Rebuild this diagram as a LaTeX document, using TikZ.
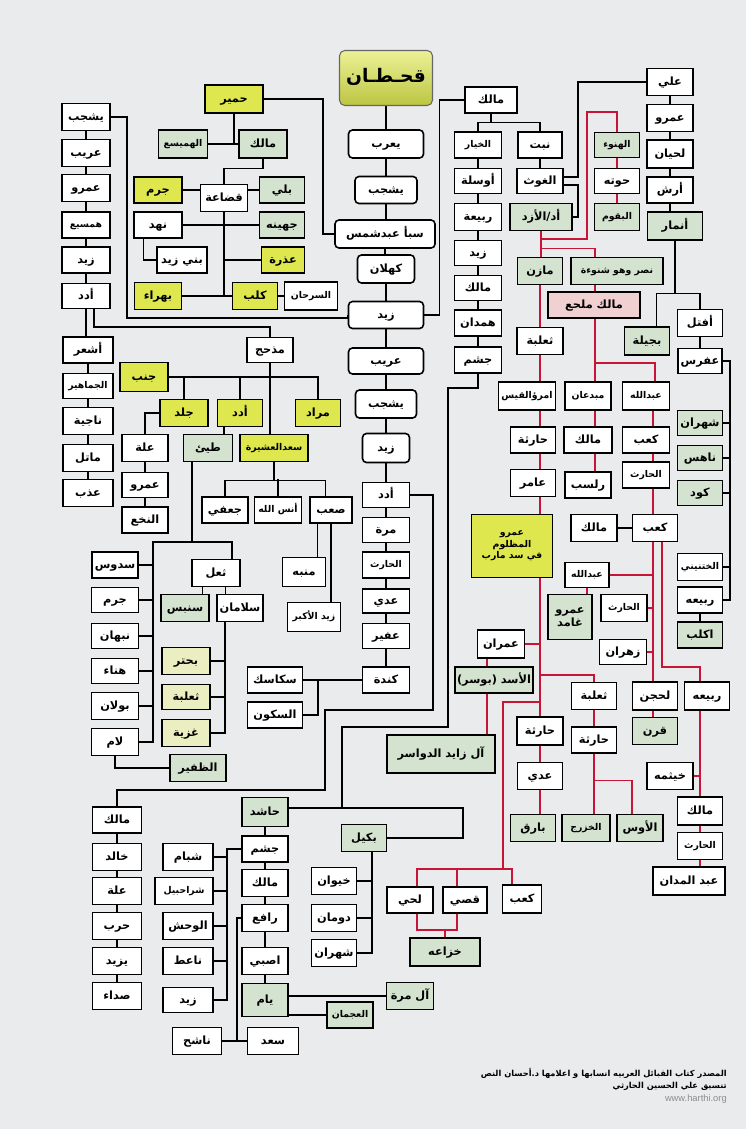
\documentclass[tikz,border=0pt]{standalone}
\usepackage{fontspec}
\setmainfont{Liberation Sans}
\newfontfamily\ar[Script=Arabic]{DejaVu Sans}
\TeXXeTstate=1
\definecolor{bgc}{RGB}{234,235,237}
\definecolor{yel}{RGB}{222,232,78}
\definecolor{grn}{RGB}{212,226,208}
\definecolor{lyel}{RGB}{234,238,192}
\definecolor{pnk}{RGB}{240,208,208}
\definecolor{redl}{RGB}{200,20,55}
\pgfdeclarelayer{bgz}\pgfdeclarelayer{lines}\pgfsetlayers{bgz,lines,main}
\tikzset{
  box/.style={draw,line width=1.2pt,fill=white,inner sep=1pt,text height=6pt,text depth=1.2pt,font=\ar\bfseries\fontsize{8.5}{10}\selectfont},
  rb/.style={rounded corners=3pt},
  yb/.style={fill=yel},
  gb/.style={fill=grn},
  lb/.style={fill=lyel},
  pb/.style={fill=pnk},
  sm/.style={text height=5pt,text depth=1pt,font=\ar\bfseries\fontsize{7}{8.5}\selectfont},
  ln/.style={line width=0.9pt,draw=black},
  rl/.style={line width=0.9pt,draw=redl},
}
\newcommand\bx[7][]{\node[box,#1,minimum width=#5*0.75pt,minimum height=#6*0.75pt] (#2) at (#3,#4) {\beginR #7\endR};}
\newcommand\bxr[7][]{\node[box,#1,minimum width=#5*0.75pt,minimum height=#6*0.75pt] (#2) at (#3,#4) {#7};}
\begin{document}
\begin{tikzpicture}[x=0.75pt,y=-0.75pt]
\begin{pgfonlayer}{bgz}
\fill[bgc] (0,0) rectangle (746,1129);
\end{pgfonlayer}
\useasboundingbox (0,0) rectangle (746,1129);
% ---------- central column
\node[draw=black!60,line width=0.8pt,rounded corners=4pt,top color=yel!60!white,bottom color=yel!85!black,minimum width=93*0.75pt,minimum height=55*0.75pt,text height=9pt,text depth=2pt,font=\ar\bfseries\fontsize{14}{16}\selectfont] (q) at (386,78) {\beginR قحـطـان\endR};
\bx[rb]{c1}{386}{144}{75}{28}{يعرب}
\bx[rb]{c2}{386}{190}{62}{27}{يشجب}
\bxr[rb]{c3}{385}{234}{100}{28}{\beginR سبأ عبدشمس\endR}
\bx[rb]{c4}{386}{269}{57}{28}{كهلان}
\bx[rb]{c5}{386}{315}{75}{27}{زيد}
\bx[rb]{c6}{386}{361}{75}{26}{عريب}
\bx[rb]{c7}{386}{404}{61}{28}{يشجب}
\bx[rb]{c8}{386}{448}{47}{29}{زيد}
\bx{c9}{386}{495}{47}{25}{أدد}
\bx{c10}{386}{530}{47}{25}{مرة}
\bx[sm]{c11}{386}{565}{47}{26}{الحارث}
\bx{c12}{386}{601}{47}{24}{عدي}
\bx{c13}{386}{636}{47}{25}{عفير}
\bx{c14}{386}{680}{47}{26}{كندة}
% ---------- right of centre
\bx{m1}{491}{100}{52}{26}{مالك}
\bx[sm]{r1}{478}{145}{47}{26}{الخيار}
\bx{r2}{478}{181}{47}{25}{أوسلة}
\bx{r3}{478}{217}{47}{27}{ربيعة}
\bx{r4}{478}{253}{47}{25}{زيد}
\bx{r5}{478}{288}{47}{25}{مالك}
\bx{r6}{478}{323}{47}{26}{همدان}
\bx{r7}{478}{360}{47}{26}{جشم}
\bx{n1}{540}{145}{44}{26}{نبت}
\bx{n2}{540}{181}{46}{25}{الغوث}
\bx[gb]{n3}{541}{217}{62}{27}{أد/الأزد}
\bx[gb,sm]{t1}{617}{145}{45}{25}{الهنوء}
\bx{t2}{617}{181}{45}{25}{حوته}
\bx[gb,sm]{t3}{617}{217}{45}{27}{البقوم}
\bx{a1}{670}{82}{46}{27}{علي}
\bx{a2}{670}{118}{46}{27}{عمرو}
\bx{a3}{670}{154}{46}{28}{لحيان}
\bx{a4}{670}{190}{46}{26}{أرش}
\bx[gb]{a5}{675}{226}{55}{28}{أنمار}
\bx{a6}{700}{323}{45}{27}{أفتل}
\bx{a7}{700}{361}{44}{25}{عفرس}
\bx[gb]{bj}{647}{341}{45}{28}{بجيلة}
\bx[gb]{k1}{700}{423}{45}{25}{شهران}
\bx[gb]{k2}{700}{458}{45}{25}{ناهس}
\bx[gb]{k3}{700}{493}{45}{25}{كود}
\bx[sm]{k4}{700}{567}{45}{27}{الختنيني}
\bx{k5}{700}{600}{45}{26}{ربيعه}
\bx[gb]{k6}{700}{635}{45}{26}{اكلب}
\bx[gb]{mz}{540}{271}{45}{27}{مازن}
\bxr[gb,sm]{ns}{617}{271}{92}{27}{\beginR نصر وهو شنوءة\endR}
\bxr[pb]{mm}{594}{305}{92}{26}{\beginR مالك ملحع\endR}
\bx{th}{540}{341}{46}{27}{ثعلبة}
\bx[sm]{im}{527}{396}{57}{28}{امرؤالقيس}
\bx{hr}{533}{440}{45}{26}{حارثة}
\bx{am}{533}{483}{45}{27}{عامر}
\node[box,yb,sm,align=center,text height=,text depth=,minimum width=81*0.75pt,minimum height=63*0.75pt] (amr) at (512,546) {\beginR عمرو\endR\\\beginR المظلوم\endR\\\beginR في سد مارب\endR};
\bx[sm]{mb}{588}{396}{46}{28}{مبدعان}
\bx{ml}{588}{440}{48}{26}{مالك}
\bx{rs}{588}{485}{46}{26}{رلسب}
\bx[sm]{ab}{646}{396}{47}{28}{عبدالله}
\bx{kb}{646}{440}{47}{26}{كعب}
\bx[sm]{hth}{646}{475}{47}{26}{الحارث}
\bx{kb2}{655}{528}{45}{27}{كعب}
\bx{ml2}{594}{528}{46}{27}{مالك}
\bx[sm]{ab2}{587}{575}{44}{25}{عبدالله}
\node[box,gb,align=center,text height=,text depth=,minimum width=44*0.75pt,minimum height=45*0.75pt] (ag) at (570,617) {\beginR عمرو\endR\\\beginR غامد\endR};
\bx[sm]{hth2}{624}{608}{46}{27}{الحارث}
\bx{zh}{623}{652}{47}{25}{زهران}
\bx{lh}{655}{696}{45}{28}{لحجن}
\bx[gb]{qr}{655}{731}{45}{27}{قرن}
\bx{rb2}{707}{696}{45}{28}{ربيعه}
\bx{kh}{670}{776}{46}{27}{خيثمه}
\bx{ml3}{700}{811}{45}{28}{مالك}
\bx[sm]{hth3}{700}{846}{45}{27}{الحارث}
\bxr{am2}{689}{881}{72}{28}{\beginR عبد المدان\endR}
\bx{imr}{501}{644}{47}{28}{عمران}
\bxr[gb]{as}{494}{680}{78}{26}{\beginR الأسد (بوسر)\endR}
\bxr[gb]{zd}{441}{754}{108}{38}{\beginR آل زايد الدواسر\endR}
\bx{th2}{594}{696}{45}{27}{ثعلبة}
\bx{hr2}{594}{740}{45}{26}{حارثة}
\bx{hr3}{540}{731}{46}{28}{حارثة}
\bx{ad}{540}{776}{45}{27}{عدي}
\bx[gb]{bq}{533}{828}{45}{27}{بارق}
\bx[gb,sm]{kz}{586}{828}{48}{27}{الخزرج}
\bx[gb]{aws}{640}{828}{46}{27}{الأوس}
\bx{lhy}{410}{900}{46}{26}{لحي}
\bx{qs}{465}{900}{44}{26}{قصي}
\bx{kb3}{522}{899}{39}{28}{كعب}
\bx[gb]{kz2}{445}{952}{70}{28}{خزاعه}
% ---------- left top
\bx[yb]{hm}{234}{99}{58}{28}{حمير}
\bx[gb]{mk}{263}{144}{48}{28}{مالك}
\bx[gb,sm]{hms}{183}{144}{49}{28}{الهميسع}
\bx{qd}{224}{198}{47}{27}{قضاعة}
\bx[yb]{jr}{158}{190}{48}{26}{جرم}
\bx[gb]{bl}{282}{190}{45}{26}{بلي}
\bx[gb]{jh}{282}{225}{45}{26}{جهينه}
\bx{nh}{158}{225}{48}{26}{نهد}
\bxr{bz}{182}{260}{50}{26}{\beginR بني زيد\endR}
\bx[yb]{uz}{283}{260}{43}{26}{عذرة}
\bx[yb]{kl}{255}{296}{45}{27}{كلب}
\bx[yb]{bh}{158}{296}{47}{27}{بهراء}
\bx[sm]{sr}{311}{296}{53}{28}{السرحان}
\bx{l1}{86}{117}{48}{27}{يشجب}
\bx{l2}{86}{153}{48}{27}{عريب}
\bx{l3}{86}{188}{48}{27}{عمرو}
\bx[sm]{l4}{86}{225}{48}{26}{همسيع}
\bx{l5}{86}{260}{48}{26}{زيد}
\bx{l6}{86}{296}{48}{25}{أدد}
\bx{s1}{88}{350}{50}{26}{أشعر}
\bx[sm]{s2}{88}{386}{50}{25}{الجماهير}
\bx{s3}{88}{421}{50}{27}{ناجية}
\bx{s4}{88}{458}{50}{27}{ماتل}
\bx{s5}{88}{493}{50}{27}{عذب}
\bx{mdh}{270}{350}{46}{25}{مذحج}
\bx[yb]{jn}{144}{377}{48}{29}{جنب}
\bx[yb]{jl}{184}{413}{48}{27}{جلد}
\bx[yb]{ad2}{240}{413}{45}{27}{أدد}
\bx[yb]{mr}{318}{413}{45}{27}{مراد}
\bx[yb,sm]{sa}{274}{448}{68}{27}{سعدالعشيرة}
\bx[gb]{ty}{208}{448}{49}{27}{طيئ}
\bx{al}{145}{448}{46}{27}{علة}
\bx{am3}{145}{485}{46}{25}{عمرو}
\bx{nk}{145}{520}{46}{26}{النخع}
\bx{jf}{225}{510}{46}{26}{جعفي}
\bxr[sm]{an}{278}{510}{47}{26}{\beginR أنس الله\endR}
\bx{sb}{331}{510}{42}{26}{صعب}
\bx{mn}{304}{572}{43}{29}{منبه}
\bxr[sm]{zk}{314}{617}{53}{29}{\beginR زيد الأكبر\endR}
\bx{tl}{216}{573}{48}{27}{ثعل}
\bx{sd}{115}{565}{46}{26}{سدوس}
\bx{g1}{115}{600}{47}{25}{جرم}
\bx{g2}{115}{636}{47}{25}{نبهان}
\bx{g3}{115}{671}{47}{25}{هناء}
\bx{g4}{115}{706}{47}{27}{بولان}
\bx{g5}{115}{742}{47}{27}{لام}
\bx[gb]{zf}{198}{768}{56}{27}{الظفير}
\bx[gb]{sn}{185}{608}{48}{27}{سنبس}
\bx{sl}{240}{608}{46}{27}{سلامان}
\bx[lb]{bt}{186}{661}{48}{27}{بحتر}
\bx[lb]{tb}{186}{697}{48}{25}{ثعلبة}
\bx[lb]{gz}{186}{733}{48}{27}{غزية}
\bx{sk}{275}{680}{55}{26}{سكاسك}
\bx{skn}{275}{715}{55}{26}{السكون}
% ---------- bottom left
\bx{b1}{117}{820}{49}{26}{مالك}
\bx{b2}{117}{857}{49}{27}{خالد}
\bx{b3}{117}{891}{49}{27}{علة}
\bx{b4}{117}{926}{49}{27}{حرب}
\bx{b5}{117}{961}{49}{27}{يزيد}
\bx{b6}{117}{996}{49}{27}{صداء}
\bx[gb]{hs}{265}{812}{46}{29}{حاشد}
\bx{js}{265}{849}{46}{26}{جشم}
\bx{mk2}{265}{883}{46}{27}{مالك}
\bx{rf}{265}{918}{46}{27}{رافع}
\bx{asb}{265}{961}{46}{27}{اصبي}
\bx[gb]{ym}{265}{1000}{46}{33}{يام}
\bx{sad}{273}{1041}{51}{27}{سعد}
\bx{nsh}{197}{1041}{49}{27}{ناشح}
\bx{sbm}{188}{857}{50}{27}{شبام}
\bx[sm]{shr}{184}{891}{58}{27}{شراحبيل}
\bx{qh}{188}{926}{50}{27}{الوحش}
\bx{naat}{188}{961}{50}{27}{ناعط}
\bx{zy}{188}{1000}{50}{25}{زيد}
\bx[gb]{bk}{364}{838}{45}{27}{بكيل}
\bx{kw}{334}{881}{45}{27}{خيوان}
\bx{dm}{334}{918}{45}{27}{دومان}
\bx{shh}{334}{953}{45}{27}{شهران}
\bxr[gb]{mr2}{410}{996}{47}{27}{\beginR آل مرة\endR}
\bx[gb,sm]{ajm}{350}{1015}{46}{26}{العجمان}
% ---------- footer
\node[anchor=east,inner sep=0pt,font=\ar\bfseries\fontsize{6.2}{7}\selectfont] (ft1) at (727,1073) {\beginR المصدر كتاب القبائل العربيه انسابها و اعلامها د.أحسان النص\endR};
\node[anchor=east,inner sep=0pt,font=\ar\bfseries\fontsize{6.2}{7}\selectfont] (ft2) at (727,1086) {\beginR تنسيق علي الحسين الحارثي\endR};
\node[anchor=east,inner sep=0pt,font=\fontsize{7}{8}\selectfont,text=black!45] (ft3) at (727,1099) {www.harthi.org};
% ---------- helper coordinates
\coordinate (X417) at (417,0);
\coordinate (X457) at (457,0);
\coordinate (X487) at (487,0);
\coordinate (X512) at (512,0);
\coordinate (X540) at (540,0);
\coordinate (X595) at (595,0);
\coordinate (X653) at (653,0);
\coordinate (X655) at (655,0);
\coordinate (X662) at (662,0);
\coordinate (X700) at (700,0);
\coordinate (J1) at (342,808);
\coordinate (F1) at (192,542);
\coordinate (F2) at (153,542);
\coordinate (F3) at (225,700);
\coordinate (F4) at (318,680);
\coordinate (F5) at (227,1000);
\coordinate (F6) at (237,1041);
\coordinate (F7) at (372,900);
\coordinate (F9) at (730,600);
\begin{pgfonlayer}{lines}
% central
\foreach \a/\b in {q/c1,c1/c2,c2/c3,c3/c4,c4/c5,c5/c6,c6/c7,c7/c8,c8/c9,c9/c10,c10/c11,c11/c12,c12/c13,c13/c14}
  \draw[ln] (\a.south) -- (\a.south |- \b.north);
\draw[ln] (c5.east) -- ++(15,0) |- (m1.west);
\draw[ln] (m1.south) -- ++(0,9) -| (r1.north);
\draw[ln] (m1.south) ++(0,9) -| (n1.north);
\foreach \a/\b in {r1/r2,r2/r3,r3/r4,r4/r5,r5/r6,r6/r7,n1/n2,a1/a2,a2/a3,a3/a4,a4/a5,a6/a7,k5/k6,
  l1/l2,l2/l3,l3/l4,l4/l5,l5/l6,s1/s2,s2/s3,s3/s4,s4/s5,al/am3,am3/nk,
  b1/b2,b2/b3,b3/b4,b4/b5,b5/b6,hs/js,js/mk2,mk2/rf,rf/asb,asb/ym}
  \draw[ln] (\a.south) -- (\a.south |- \b.north);
\draw[ln] (r7.south) |- (448,388) |- (342,727) -- (J1);
\draw[ln] (hs.east |- J1) -- (463,808) |- (bk.east);
\draw[ln] (c9.east) -| (433,710) -| (325,790) -| (b1.north);
\draw[ln] (c3.west) -| (323,99) -- (hm.east);
\draw[ln] (hms.east) -- (mk.west);
\draw[ln] (hm.south) -- (hm.south |- mk.west);
\draw[ln] (mk.south) -- ++(0,10) -| (qd.north);
\draw[ln] (jr.east) -- (jr.east -| qd.west);
\draw[ln] (bl.west) -- (bl.west -| qd.east);
\draw[ln] (nh.east) -- (jh.west);
\draw[ln] (qd.south) -- (qd.south |- bh.east);
\draw[ln] (bh.east) -- (kl.west);
\draw[ln] ([xshift=-11pt]nh.south) |- (bz.west);
\draw[ln] (uz.west) -- (uz.west -| qd.south);
\draw[ln] (kl.east) -- (sr.west);
\draw[ln] (l1.east) -| (127,318) -| (c5.west);
\draw[ln] (l6.south) -- (l6.south |- s1.north);
\draw[ln] ([xshift=6pt]l6.south) |- (270,327) -- (mdh.north);
\draw[ln] (mdh.south) -- (mdh.south |- sa.north);
\draw[ln] (jn.east) -| (mr.north);
\draw[ln] (jl.north) -- (jl.north |- jn.east);
\draw[ln] (ad2.north) -- (ad2.north |- jn.east);
\draw[ln] (jl.west) -| (al.north);
\draw[ln] ([xshift=-12pt]ad2.south) -- ([xshift=-12pt]ad2.south |- ty.north);
\draw[ln] (sa.south) -- ++(0,18) -| (jf.north);
\draw[ln] (sa.south) ++(0,18) -| ([xshift=-4pt]sb.north);
\draw[ln] (an.north) -- ++(0,-17);
\draw[ln] ([xshift=-10pt]sb.south) -- ([xshift=-10pt]sb.south |- mn.north);
\draw[ln] (sb.south) -- (sb.south |- zk.north);
\draw[ln] (ty.south -| F1) -- (F1) -| ([xshift=12pt]tl.north);
\draw[ln] (F1) -- (F2) |- (g5.east);
\foreach \n in {sd,g1,g2,g3,g4} \draw[ln] (\n.east) -- (\n.east -| F2);
\draw[ln] ([xshift=-10pt]tl.south) -- ([xshift=-10pt]tl.south |- sn.north);
\draw[ln] ([xshift=7pt]tl.south) -- ([xshift=7pt]tl.south |- sl.north);
\draw[ln] (sl.south -| F3) |- (gz.east);
\draw[ln] (bt.east) -- (bt.east -| F3);
\draw[ln] (tb.east) -- (tb.east -| F3);
\draw[ln] (g5.south) |- (zf.west);
\draw[ln] (c14.west) -- (sk.east);
\draw[ln] (skn.east) -| (F4);
\draw[ln] (js.west) -| (F5) -- (zy.east);
\foreach \n in {sbm,shr,qh,naat} \draw[ln] (\n.east) -- (\n.east -| F5);
\draw[ln] (rf.west) -| (F6);
\draw[ln] (nsh.east) -- (sad.west);
\draw[ln] (ym.east |- mr2.west) -- (mr2.west);
\draw[ln] (ym.east |- ajm.west) -- (ajm.west);
\draw[ln] (bk.south -| F7) |- (shh.east);
\foreach \n in {kw,dm} \draw[ln] (\n.east) -- (\n.east -| F7);
\draw[ln] ([yshift=3pt]n2.east) -| (578,82) -- (a1.west);
\draw[ln] ([yshift=-3pt]n2.east) -| (578,217) -- (n3.east);
\draw[ln] (a5.south) -- ++(0,53) -| ([xshift=7pt]bj.north);
\draw[ln] (a5.south) ++(0,53) -| (a6.north);
\draw[ln] (a7.east) -| (F9) -- (k5.east);
\foreach \n in {k1,k2,k3,k4} \draw[ln] (\n.east) -- (\n.east -| F9);
\draw[ln] (ml2.east) -- (kb2.west);
% red
\draw[rl] (n3.south) |- (587,239) |- (617,112) -- (t1.north);
\draw[rl] (t1.south) -- (t1.south |- t2.north);
\draw[rl] (t2.south) -- (t2.south |- t3.north);
\draw[rl] (n3.south) -- (n3.south |- mz.north);
\draw[rl] (n3.south) ++(0,17) -| (ns.north -| X595);
\draw[rl] (ns.south -| X595) -- (mm.north -| X595);
\draw[rl] (mm.south -| X595) -- (mb.north -| X595);
\draw[rl] (595,363) -| (ab.north -| X655);
\draw[rl] (mb.south -| X595) -- (ml.north -| X595);
\draw[rl] (ml.south -| X595) -- (rs.north -| X595);
\foreach \a/\b in {mz/th,th/im,im/hr,hr/am,am/amr,amr/hr3,hr3/ad,ad/bq}
  \draw[rl] (\a.south -| X540) -- (\b.north -| X540);
\foreach \a/\b in {ab/kb,kb/hth,hth/kb2,kb2/lh,lh/qr}
  \draw[rl] (\a.south -| X653) -- (\b.north -| X653);
\draw[rl] (ab2.east) -- (ab2.east -| X653);
\draw[rl] (hth2.east) -- (hth2.east -| X653);
\draw[rl] (zh.east) -- (zh.east -| X653);
\draw[rl] (kb2.south -| X662) |- (700,667) -- (rb2.north -| X700);
\draw[rl] (ab2.south) -- (ab2.south |- ag.north);
\draw[rl] (rb2.south -| X700) -- (am2.north -| X700);
\draw[rl] (kh.east) -- (kh.east -| X700);
\draw[rl] (imr.east) -- (imr.east -| X540);
\draw[rl] (540,675) -| (th2.north);
\draw[rl] (th2.south) -- (th2.south |- hr2.north);
\draw[rl] (hr2.south) -- (hr2.south |- kz.north);
\draw[rl] (hr2.south) ++(0,27) -| ([xshift=-6pt]aws.north);
\draw[rl] (540,702) -| (503,869);
\draw[rl] (lhy.north -| X417) -- (417,869) -- (512,869) -- (kb3.north -| X512);
\draw[rl] (qs.north -| X457) -- (457,869);
\draw[rl] (lhy.south -| X417) -- (417,930) -- (457,930) -- (qs.south -| X457);
\draw[rl] (kz2.north) -- ++(0,-8);
\draw[rl] (imr.south -| X487) -- (zd.north -| X487);
\end{pgfonlayer}
\end{tikzpicture}
\end{document}
